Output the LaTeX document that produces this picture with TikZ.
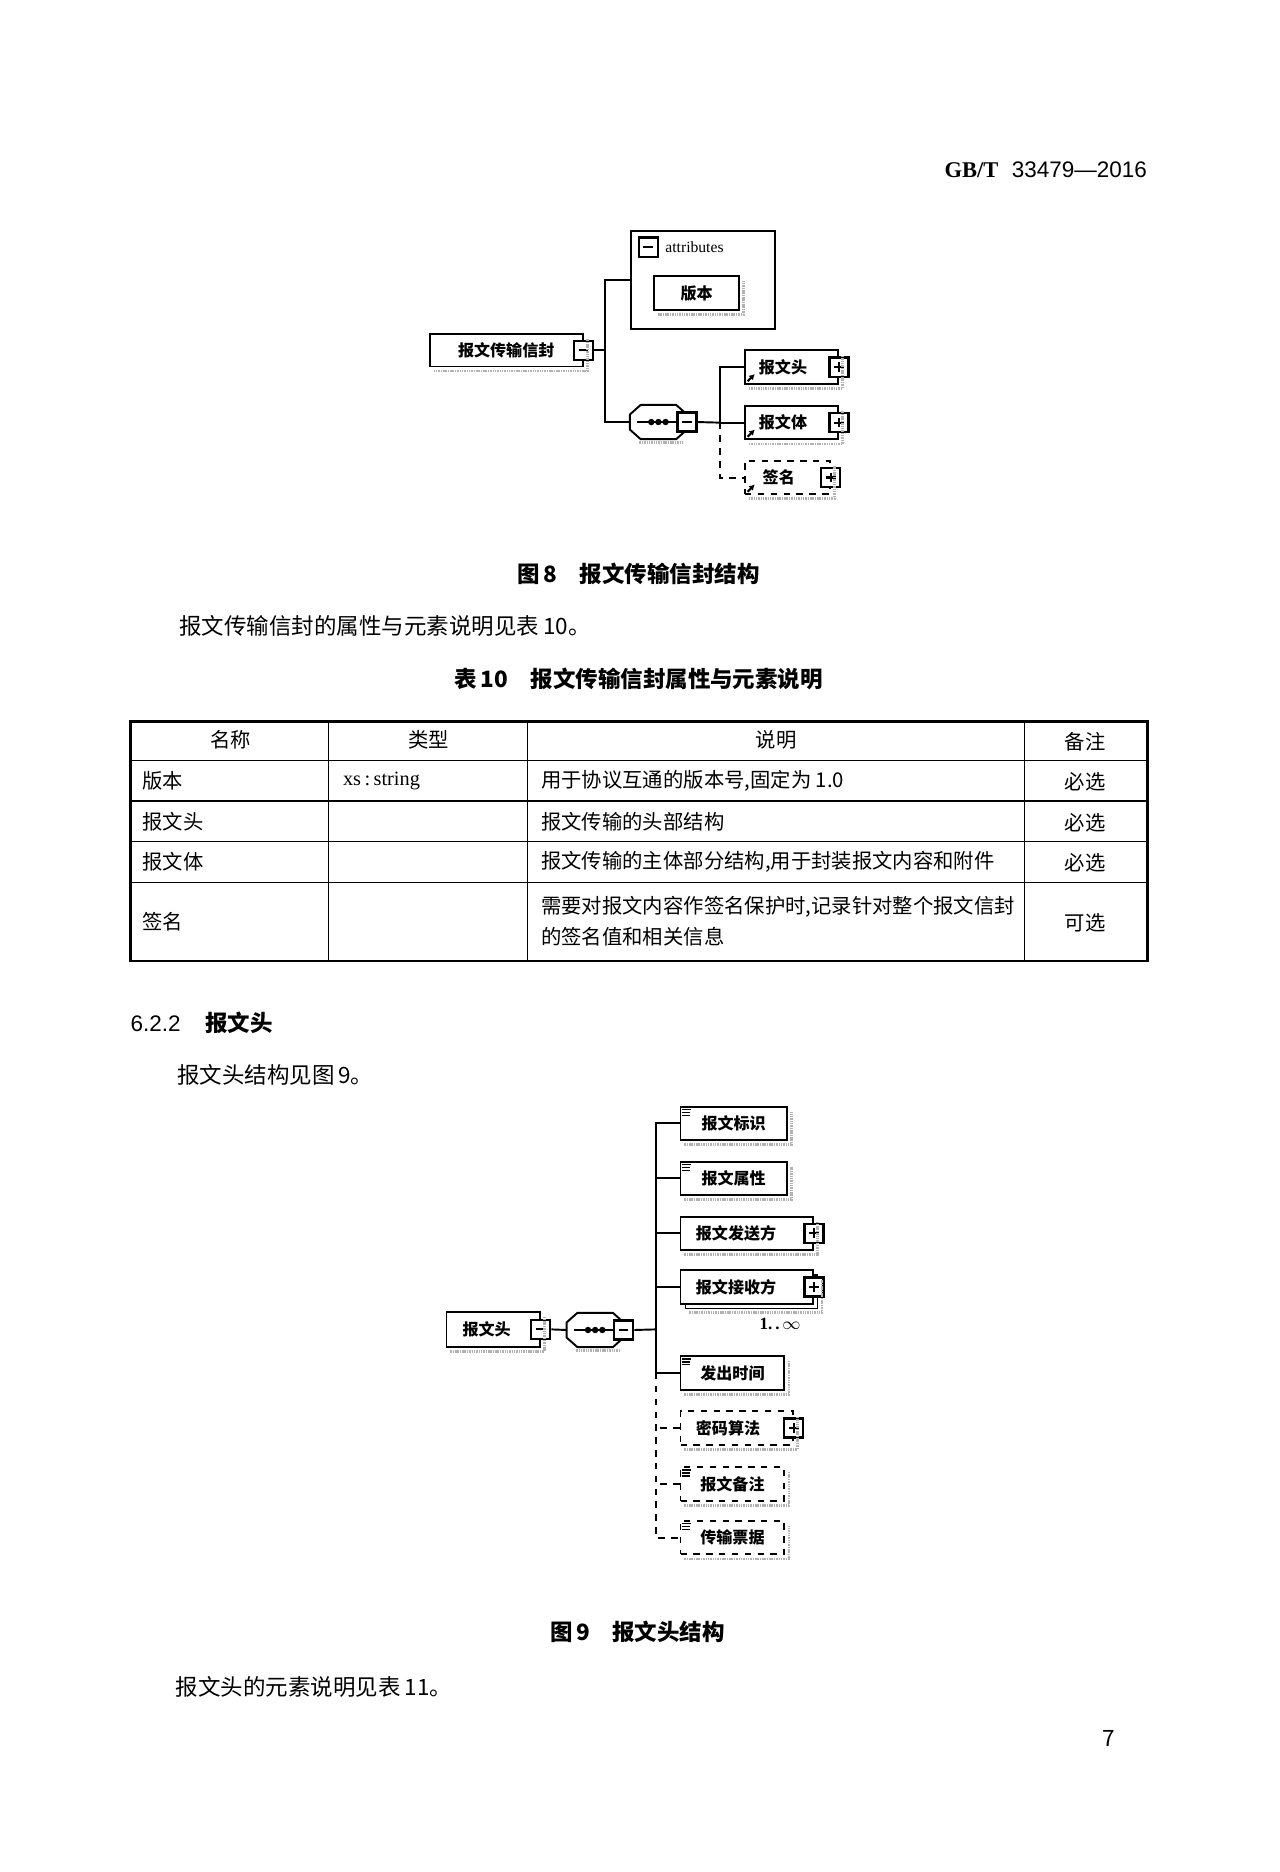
\documentclass[tikz,border=0pt]{standalone}
\usepackage{fontspec}
\setmainfont{Noto Sans CJK SC}
\newfontfamily\timesfont{Liberation Serif}
\newfontfamily\arialfont{Liberation Sans}
\usetikzlibrary{arrows.meta}
\newcommand{\pu}{0.01959cm}
\tikzset{
  every node/.style={inner sep=0pt, font=\fontsize{10.5}{13}\selectfont},
  elem/.style={draw, line width=0.9pt, fill=white, minimum height=28*\pu,
    font=\fontsize{7.5}{9}\selectfont\bfseries},
  optelem/.style={elem, dashed},
  pm/.style={draw, line width=1.1pt, fill=white, minimum size=16*\pu},
  minusbox/.style={pm, path picture={
    \draw[line width=1pt] ([xshift=2.2pt]path picture bounding box.west) -- ([xshift=-2.2pt]path picture bounding box.east);}},
  plusbox/.style={pm, path picture={
    \draw[line width=1pt] ([xshift=2.2pt]path picture bounding box.west) -- ([xshift=-2.2pt]path picture bounding box.east)
      ([yshift=-2.2pt]path picture bounding box.north) -- ([yshift=2.2pt]path picture bounding box.south);}},
  seqbox/.style={minimum width=47*\pu, minimum height=28*\pu},
  shadowline/.style={gray!60, line width=1.3pt, dash pattern=on 0.7pt off 0.4pt},
  refarrow/.style={-{Latex[length=2.6pt,width=3pt]}, line width=1pt},
  cell/.style={anchor=west, font=\fontsize{9.5}{14.5}\selectfont},
  headcell/.style={font=\fontsize{9.5}{12}\selectfont}
}
\begin{document}
\begin{tikzpicture}[x=\pu,y=-\pu]
\useasboundingbox (0,0) rectangle (1072,1568);
\node[anchor=east] (std) at (961,142) {{\timesfont\bfseries GB/T}\hspace{0.6em}{\arialfont 33479—2016}};

% figure 8
\node[draw, line width=0.9pt, minimum width=120*\pu, minimum height=82*\pu, anchor=north west] (attr) at (528,193) {};
\node[minusbox] (attrminus) at (543,207) {};
\node[anchor=west, font=\fontsize{7.3}{9}\timesfont] (attrtxt) at (557,207) {attributes};
\node[elem, minimum width=71*\pu] (ver) at (583.5,245.5) {版本};
\node[elem, minimum width=128*\pu, minimum height=27*\pu] (env) at (424,293.5) {报文传输信封};
\node[minusbox] (envminus) at (env.east) {};
\node[seqbox] (seq8) at (551.5,353.5) {};
\node[elem, minimum width=78*\pu] (hdr) at (663,307.5) {\hspace{-8pt}报文头};
\node[plusbox] (hdrplus) at (hdr.east) {};
\node[elem, minimum width=78*\pu] (body) at (663,354) {\hspace{-8pt}报文体};
\node[plusbox] (bodyplus) at (body.east) {};
\node[optelem, minimum width=71*\pu] (sig) at (659.5,400) {\hspace{-8pt}签名};
\node[plusbox] (sigplus) at (sig.east) {};

% figure 9
\node[elem, minimum width=78*\pu, minimum height=29*\pu] (hd) at (413,1113.5) {\hspace{-6pt}报文头};
\node[minusbox] (hdminus) at (hd.east) {};
\node[seqbox] (seq9) at (498.5,1114) {};
\node[elem, minimum width=89*\pu] (c1) at (614.5,941) {报文标识};
\node[elem, minimum width=89*\pu] (c2) at (614.5,987) {报文属性};
\node[elem, minimum width=111*\pu] (c3) at (625.5,1033) {\hspace{-10pt}报文发送方};
\node[plusbox] (c3plus) at (c3.east) {};
\node[draw, line width=0.6pt, minimum width=111*\pu, minimum height=28*\pu] (c4back) at (629.5,1082) {};
\node[elem, minimum width=111*\pu] (c4) at (625.5,1078) {\hspace{-10pt}报文接收方};
\node[plusbox] (c4plus) at (c4.east) {};
\node[anchor=north east, font=\fontsize{8}{9}\timesfont\bfseries] (mult) at (671,1104) {1.\,.\,$\infty$};
\node[elem, minimum width=87*\pu] (c5) at (613.5,1150) {发出时间};
\node[optelem, minimum width=94*\pu] (c6) at (617,1196) {\hspace{-8pt}密码算法};
\node[plusbox] (c6plus) at (c6.east) {};
\node[optelem, minimum width=87*\pu] (c7) at (613.5,1243) {报文备注};
\node[optelem, minimum width=87*\pu] (c8) at (613.5,1288) {传输票据};

% sequence compositors
\foreach \n in {seq8,seq9} {
  \draw[line width=0.9pt, fill=white] ([shift={(9,0)}]\n.north west) -- ([shift={(-9,0)}]\n.north east)
    -- ([shift={(0,8)}]\n.north east) -- ([shift={(0,-8)}]\n.south east) -- ([shift={(-9,0)}]\n.south east)
    -- ([shift={(9,0)}]\n.south west) -- ([shift={(0,-8)}]\n.south west) -- ([shift={(0,8)}]\n.north west) -- cycle;
  \draw[line width=0.9pt] ([xshift=6*\pu]\n.west) -- ([xshift=-6*\pu]\n.east);
  \foreach \d in {-6,0,6}
    \fill ([shift={(\d,0)}]\n.center) circle (1.5pt);
  \draw[shadowline] ([shift={(8,3)}]\n.south west) -- ([shift={(-4,3)}]\n.south east);
}
\node[minusbox] (seq8minus) at (seq8.east) {};
\node[minusbox] (seq9minus) at (seq9.east) {};

% connectors
\coordinate (b8) at (507,293.5);
\coordinate (b8r) at (603,354);
\draw[line width=0.9pt] (envminus.east) -- (b8);
\draw[line width=0.9pt] (attr.west) -| (b8) |- (seq8.west);
\draw[line width=0.9pt] (seq8minus.east) -- (b8r);
\draw[line width=0.9pt] (hdr.west) -| (b8r) |- (body.west);
\draw[line width=0.9pt, dashed] (b8r) |- (sig.west);

\coordinate (b9) at (549.5,1113.5);
\draw[line width=0.9pt] (hdminus.east) -- (seq9.west);
\draw[line width=0.9pt] (seq9minus.east) -- (b9);
\draw[line width=0.9pt] (c1.west) -| (b9) |- (c5.west);
\foreach \n in {c2,c3,c4}
  \draw[line width=0.9pt] (\n.west) -- (\n.west -| b9);
\draw[line width=0.9pt, dashed] (c5.west -| b9) |- (c8.west);
\foreach \n in {c6,c7}
  \draw[line width=0.9pt, dashed] (\n.west) -- (\n.west -| b9);

% shadows and icons
\foreach \n in {env,ver,hdr,body,sig,hd,c1,c2,c3,c4back,c5,c6,c7,c8}
  \draw[shadowline] ([shift={(4,3)}]\n.south west) -- ([shift={(3,3)}]\n.south east) -- ([shift={(3,5)}]\n.north east);
\foreach \n in {hdr,body,sig}
  \draw[refarrow] ([shift={(3,-3)}]\n.south west) -- ++(6,-6);
\foreach \n in {c1,c2,c5,c7,c8}
  \draw[line width=0.6pt] ([shift={(2,3)}]\n.north west) -- ++(8,0)
    ([shift={(2,5.5)}]\n.north west) -- ++(7,0)
    ([shift={(2,8)}]\n.north west) -- ++(7,0);

\node (cap8) at (535,481) {\bfseries 图\,8\hspace{1em}报文传输信封结构};
\node[anchor=west] (ref10) at (150,524) {报文传输信封的属性与元素说明见表\,10。};
\node (cap10) at (535,569) {\bfseries 表\,10\hspace{1em}报文传输信封属性与元素说明};

% table 10
\draw[line width=1.3pt] (109,604) rectangle (961,805);
\foreach \y in {637,671,705,739}
  \draw[line width=0.6pt] (109,\y) -- (961,\y);
\foreach \x in {275,442,858}
  \draw[line width=0.6pt] (\x,604) -- (\x,805);
\node[headcell] (h1) at (193,620) {名称};
\node[headcell] (h2) at (359,620) {类型};
\node[headcell] (h3) at (650,620) {说明};
\node[headcell] (h4) at (909,621) {备注};
\node[cell] (r1a) at (119,654) {版本};
\node[cell] (r1b) at (287,654) {\timesfont xs\,:\,string};
\node[cell] (r1c) at (453,654) {用于协议互通的版本号,固定为 1.0};
\node[headcell] (r1d) at (909,655) {必选};
\node[cell] (r2a) at (119,688) {报文头};
\node[cell] (r2c) at (453,688) {报文传输的头部结构};
\node[headcell] (r2d) at (909,689) {必选};
\node[cell] (r3a) at (119,722) {报文体};
\node[cell] (r3c) at (453,722) {报文传输的主体部分结构,用于封装报文内容和附件};
\node[headcell] (r3d) at (909,723) {必选};
\node[cell] (r4a) at (119,772) {签名};
\node[cell, align=left] (r4c) at (453,772) {需要对报文内容作签名保护时,记录针对整个报文信封\\的签名值和相关信息};
\node[headcell] (r4d) at (909,773) {可选};

\node[anchor=west] (sec) at (109,857) {{\arialfont 6.2.2}\hspace{1.1em}\bfseries 报文头};
\node[anchor=west] (ref9) at (148,900) {报文头结构见图\,9。};

\node (cap9) at (534,1367) {\bfseries 图\,9\hspace{1em}报文头结构};
\node[anchor=west] (ref11) at (147,1413) {报文头的元素说明见表\,11。};
\node (pg) at (929,1456) {7};
\end{tikzpicture}
\end{document}
